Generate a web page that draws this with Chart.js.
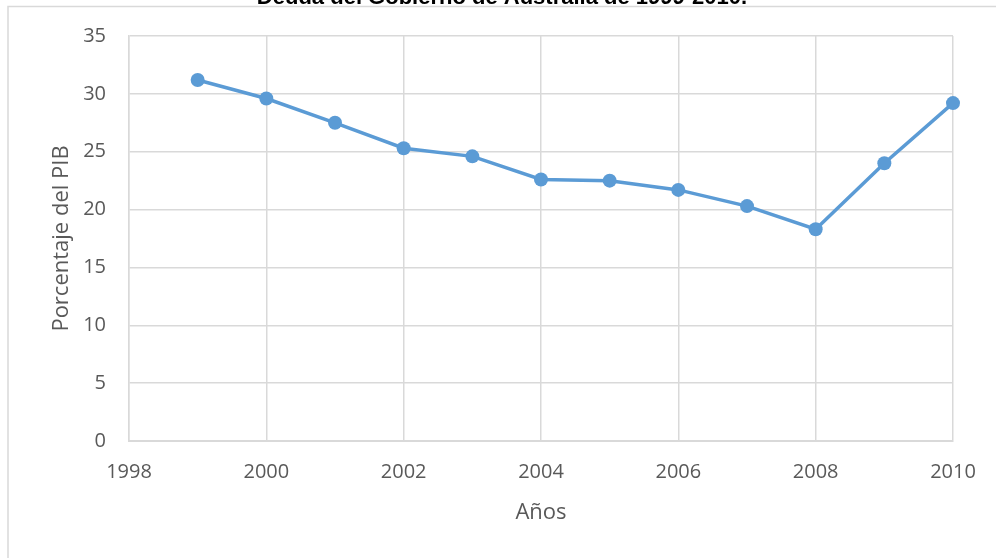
<!DOCTYPE html>
<html>
<head>
<meta charset="utf-8">
<script src="https://cdn.jsdelivr.net/npm/chart.js@4.4.0/dist/chart.umd.min.js"></script>
<style>
  html, body { margin: 0; padding: 0; background: #fff; }
  #wrap { width: 996px; height: 558px; position: relative; }
</style>
</head>
<body>
<div id="wrap"><canvas id="deudaChart" width="996" height="558"></canvas></div>
<script>
// Deuda del gobierno, % del PIB
const years = [1999, 2000, 2001, 2002, 2003, 2004, 2005, 2006, 2007, 2008, 2009, 2010]
const deuda = [31.2, 29.6, 27.5, 25.3, 24.6, 22.6, 22.5, 21.7, 20.3, 18.3, 24.0, 29.2]
const titleText = "Deuda del Gobierno de Australia de 1999-2010."
const xTitle = "Años"
const yTitle = "Porcentaje del PIB"

const gridGray = "#d9d9d9"
const textGray = "#595959"
const blue = "#5b9bd5"

// frame lines + the (mostly cut) heading above the frame
const framePlugin = {
    id: "frame",
    beforeDraw(chart) {
        const ctx = chart.ctx
        ctx.save()
        ctx.fillStyle = "#fff"
        ctx.fillRect(0, 0, chart.width, chart.height)
        ctx.strokeStyle = gridGray
        ctx.lineWidth = 1.5
        ctx.beginPath()
        ctx.moveTo(8, chart.height)
        ctx.lineTo(8, 6.5)
        ctx.lineTo(chart.width, 6.5)
        ctx.stroke()
        ctx.fillStyle = "#000"
        ctx.font = "bold 22px 'Liberation Sans', Arial, sans-serif"
        ctx.textAlign = "center"
        ctx.textBaseline = "alphabetic"
        ctx.fillText(titleText, 502, 4)
        ctx.restore()
    }
}

const points = years.map((y, i) => ({ x: y, y: deuda[i] }))

const tickFont = { family: "'Open Sans', sans-serif", size: 20, lineHeight: 1.2 }
const titleFont = { family: "'Open Sans', sans-serif", size: 22, lineHeight: 1.2 }

new Chart(document.getElementById("deudaChart"), {
    type: "line",
    data: {
        datasets: [{
            data: points,
            borderColor: blue,
            backgroundColor: blue,
            borderWidth: 3.5,
            pointRadius: 7,
            pointBackgroundColor: blue,
            pointBorderColor: blue,
            pointBorderWidth: 0,
            tension: 0,
            clip: false
        }]
    },
    options: {
        responsive: false,
        animation: false,
        layout: { padding: { left: 0, top: 36, right: 43, bottom: 0 } },
        plugins: {
            legend: { display: false },
            tooltip: { enabled: false }
        },
        scales: {
            x: {
                type: "linear",
                min: 1998,
                max: 2010,
                ticks: {
                    stepSize: 2,
                    color: textGray,
                    font: tickFont,
                    padding: 19,
                    maxRotation: 0,
                    callback: (v) => String(v)
                },
                grid: { color: gridGray, lineWidth: 1.5, drawTicks: false },
                border: { color: gridGray, width: 2 },
                title: {
                    display: true,
                    text: xTitle,
                    color: textGray,
                    font: titleFont,
                    padding: { top: 0, bottom: 32 }
                },
                afterFit: (scale) => { scale.height = 117 }
            },
            y: {
                min: 0,
                max: 35,
                ticks: {
                    stepSize: 5,
                    color: textGray,
                    font: tickFont,
                    padding: 23
                },
                grid: { color: gridGray, lineWidth: 1.5, drawTicks: false },
                border: { color: gridGray, width: 1.5 },
                title: {
                    display: true,
                    text: yTitle,
                    color: textGray,
                    font: titleFont,
                    padding: { top: 49, bottom: 0 }
                },
                afterFit: (scale) => { scale.width = 129 }
            }
        }
    },
    plugins: [framePlugin]
})
</script>
</body>
</html>
